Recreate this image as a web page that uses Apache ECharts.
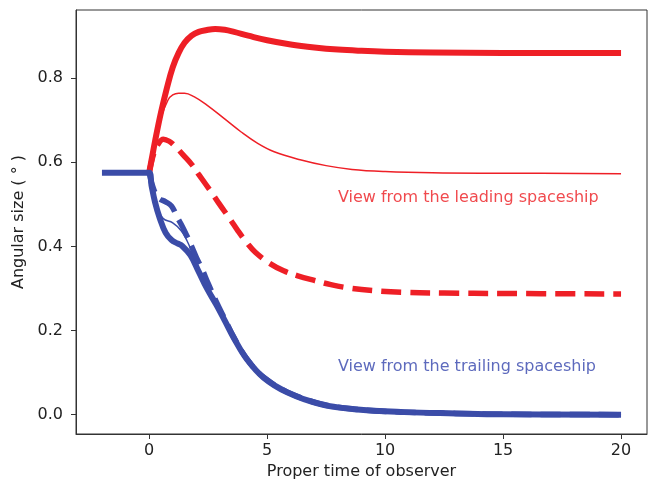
<!DOCTYPE html>
<html>
	<head>
		<meta charset="utf-8">
		<title></title>
		<script src="https://cdn.jsdelivr.net/npm/echarts@6/dist/echarts.min.js"></script>
		<style>
			html, body {
				margin: 0;
				padding: 0;
				background: #fff;
			}
			#main {
				width: 649px;
				height: 485px;
			}
		</style>
	</head>
	<body>
		<div id="main"></div>
	</body>
	<script>
		// tick labels
		var xTicks = [0, 5, 10, 15, 20];
		var yTicks = [0, 0.2, 0.4, 0.6, 0.8];

		// leading spaceship (red): thick, thin, dashed
		var redThickT = [0, 0.1, 0.25, 0.5, 0.75, 1.0, 1.25, 1.5, 1.8, 2.1, 2.4, 2.8, 3.2, 3.6, 4.2, 5, 6, 7, 8, 9, 10, 12, 15, 20];
		var redThickV = [0.575, 0.605, 0.650, 0.718, 0.776, 0.826, 0.860, 0.884, 0.901, 0.910, 0.914, 0.917, 0.915, 0.910, 0.901, 0.890, 0.880, 0.873, 0.868, 0.865, 0.863, 0.861, 0.860, 0.860];

		var redThinT = [0, 0.25, 0.5, 0.8, 1.0, 1.25, 1.5, 1.9, 2.45, 3.2, 3.9, 4.6, 5.3, 6.4, 7.5, 8.6, 10, 12, 15, 20];
		var redThinV = [0.575, 0.645, 0.705, 0.748, 0.760, 0.764, 0.764, 0.756, 0.736, 0.703, 0.672, 0.645, 0.625, 0.606, 0.592, 0.583, 0.578, 0.575, 0.574, 0.573];

		var redDashT = [0, 0.2, 0.4, 0.6, 0.85, 1.1, 1.45, 1.8, 2.1, 2.65, 2.95, 3.45, 3.75, 4.15, 4.5, 5.1, 5.7, 6.3, 7.0, 7.7, 8.5, 9.5, 10.7, 12.5, 15, 20];
		var redDashV = [0.575, 0.622, 0.645, 0.655, 0.650, 0.638, 0.617, 0.595, 0.571, 0.528, 0.503, 0.463, 0.438, 0.408, 0.386, 0.360, 0.342, 0.330, 0.319, 0.309, 0.301, 0.295, 0.291, 0.289, 0.288, 0.287];

		// trailing spaceship (blue): thick, thin, dashed
		var blueThickT = [-2, 0, 0.1, 0.25, 0.45, 0.7, 0.95, 1.2, 1.4, 1.75, 2.1, 2.45, 2.85, 3.2, 3.6, 4.15, 4.85, 5.85, 7.25, 8.7, 10.8, 13, 15, 20];
		var blueThickV = [0.575, 0.575, 0.545, 0.505, 0.467, 0.432, 0.415, 0.407, 0.401, 0.379, 0.340, 0.300, 0.261, 0.224, 0.181, 0.131, 0.088, 0.053, 0.025, 0.013, 0.006, 0.003, 0.001, 0.000];

		var blueThinT = [0, 0.15, 0.3, 0.6, 1.0, 1.35, 1.6, 1.8, 2.1, 2.45, 2.85, 3.2, 3.6, 4.15, 4.85, 5.85, 7.25, 8.7, 10.8, 13, 15, 20];
		var blueThinV = [0.575, 0.535, 0.497, 0.466, 0.456, 0.438, 0.414, 0.388, 0.342, 0.300, 0.261, 0.224, 0.181, 0.131, 0.088, 0.053, 0.025, 0.013, 0.006, 0.003, 0.001, 0.000];

		var blueDashT = [0, 0.2, 0.4, 0.7, 0.95, 1.2, 1.4, 1.6, 1.8, 2.0, 2.25, 2.5, 2.85, 3.2, 3.6, 4.15, 4.85, 5.85, 7.25, 8.7, 10.8, 13, 15, 20];
		var blueDashV = [0.575, 0.535, 0.515, 0.506, 0.496, 0.468, 0.448, 0.425, 0.400, 0.374, 0.345, 0.312, 0.268, 0.228, 0.183, 0.132, 0.089, 0.054, 0.026, 0.013, 0.006, 0.003, 0.001, 0.000];

		// annotations
		var notes = [
			{ t: 8, v: 0.515, text: "View from the leading spaceship", color: "#ec1c20" },
			{ t: 8, v: 0.114, text: "View from the trailing spaceship", color: "#3445ad" }
		];

		var RED = "#ee1f26";
		var BLUE = "#3b4ca8";
		var FONT = "DejaVu Sans";

		function pairs(t, v) {
			let out = [];
			for (let i = 0; i < t.length; i++) {
				out.push([t[i], v[i]]);
			}
			return out;
		}

		function line(t, v, color, width, dash) {
			return {
				type: "line",
				data: pairs(t, v),
				showSymbol: false,
				symbol: "none",
				smooth: 0.4,
				silent: true,
				lineStyle: {
					color: color,
					width: width,
					type: dash || "solid",
					cap: "butt",
					join: "round"
				}
			};
		}

		let noteSeries = {
			type: "scatter",
			symbolSize: 0,
			silent: true,
			data: notes.map(function (n) {
				return {
					value: [n.t, n.v],
					label: {
						show: true,
						position: [0, 0],
						align: "left",
						verticalAlign: "middle",
						formatter: n.text,
						color: n.color,
						fontSize: 16,
						fontFamily: FONT
					}
				};
			})
		};

		let option = {
			animation: false,
			backgroundColor: "#fff",
			grid: {
				left: 76,
				right: 2,
				top: 10,
				bottom: 48,
				show: true,
				borderColor: "#333",
				borderWidth: 1,
				containLabel: false
			},
			xAxis: {
				type: "value",
				min: -3.1,
				max: 21.1,
				name: "Proper time of observer",
				nameLocation: "middle",
				nameGap: 30,
				nameTextStyle: { fontSize: 16, fontFamily: FONT, color: "#222" },
				axisLine: { show: true, onZero: false, lineStyle: { color: "#333", width: 1 } },
				axisTick: { show: true, inside: false, length: 5, customValues: xTicks, lineStyle: { color: "#333" } },
				axisLabel: { customValues: xTicks, margin: 9, fontSize: 16, fontFamily: FONT, color: "#222" },
				splitLine: { show: false }
			},
			yAxis: {
				type: "value",
				min: -0.046,
				max: 0.962,
				name: "Angular size ( ° )",
				nameLocation: "middle",
				nameRotate: 90,
				nameGap: 43,
				nameTextStyle: { fontSize: 16, fontFamily: FONT, color: "#222" },
				axisLine: { show: true, onZero: false, lineStyle: { color: "#333", width: 1 } },
				axisTick: { show: true, inside: false, length: 5, customValues: yTicks, lineStyle: { color: "#333" } },
				axisLabel: {
					customValues: yTicks,
					margin: 13,
					fontSize: 16,
					fontFamily: FONT,
					color: "#222",
					formatter: function (v) { return v.toFixed(1); }
				},
				splitLine: { show: false }
			},
			series: [
				line(redThickT, redThickV, RED, 6),
				line(redThinT, redThinV, RED, 1.5),
				line(redDashT, redDashV, RED, 5.5, [20, 9]),
				line(blueThickT, blueThickV, BLUE, 6),
				line(blueThinT, blueThinV, BLUE, 1.5),
				line(blueDashT, blueDashV, BLUE, 5.5, [20, 9]),
				noteSeries
			]
		};

		let echart = echarts.init(document.getElementById("main"));
		echart.setOption(option);
	</script>
</html>
